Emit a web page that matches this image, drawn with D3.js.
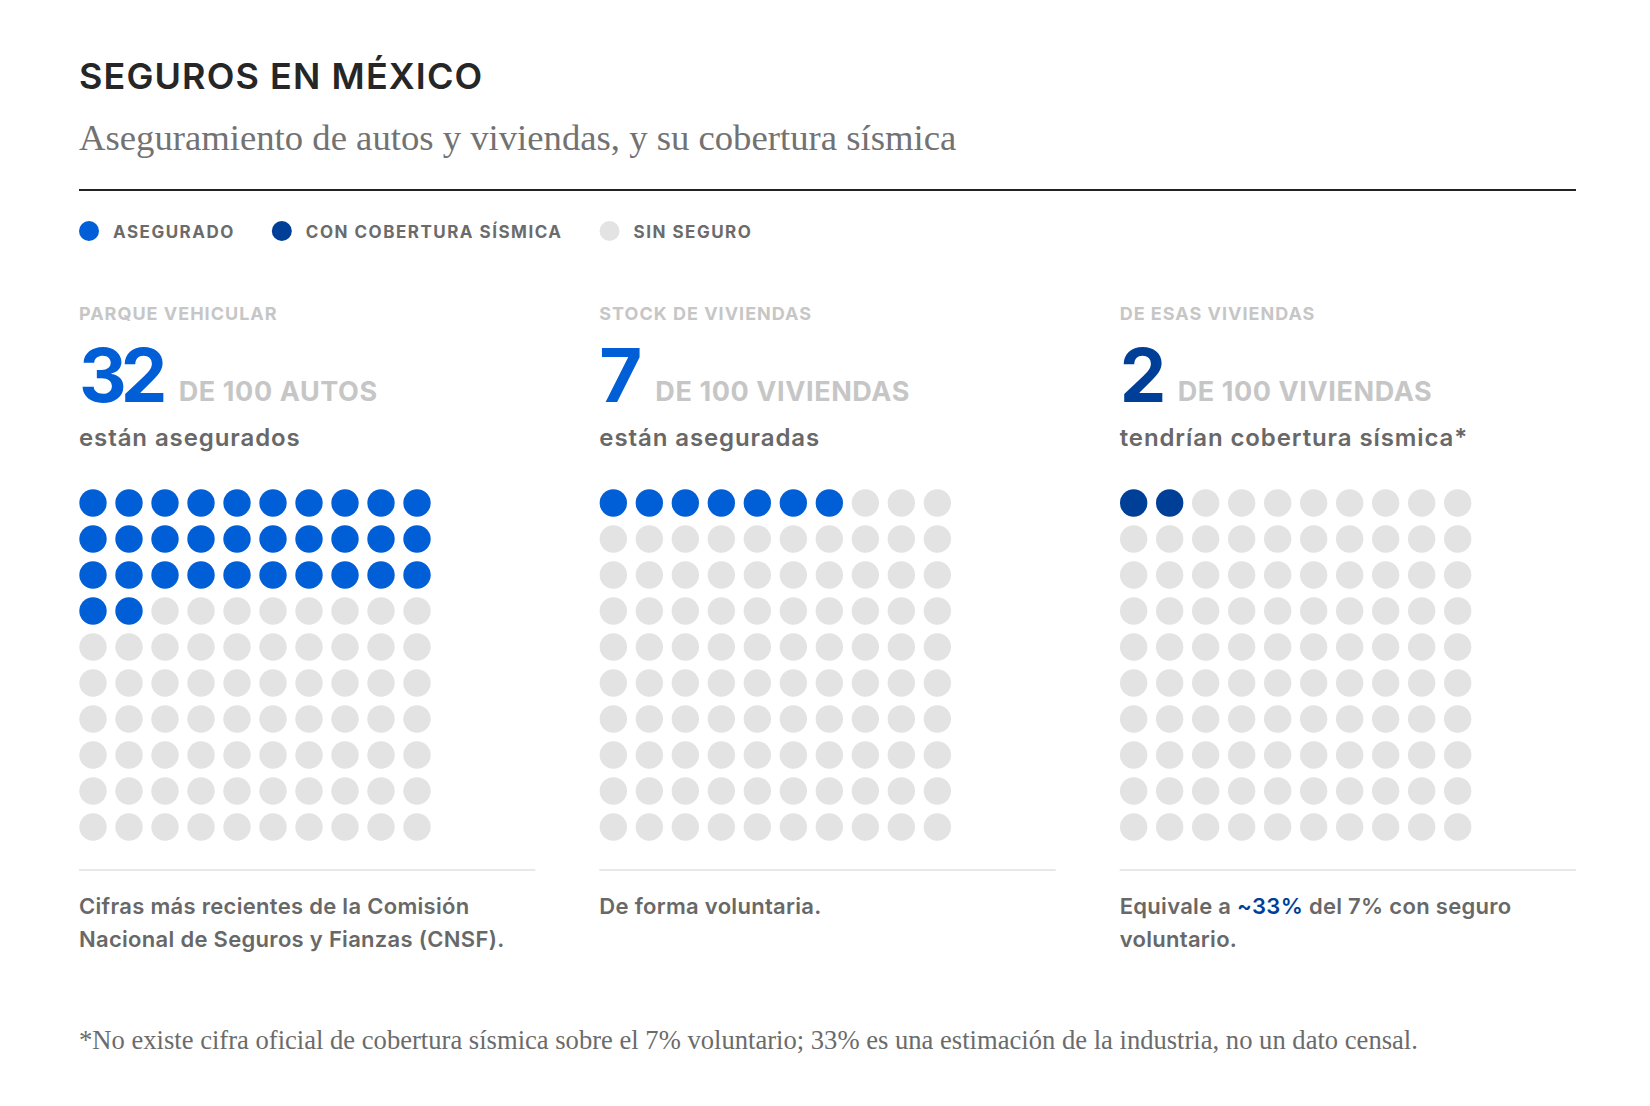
<!DOCTYPE html>
<html>
<head>
<meta charset="utf-8">
<script src="https://cdn.jsdelivr.net/npm/d3@7"></script>
<style>
  body { margin: 0; background: #fff; }
  svg { display: block; }
  .sans { font-family: Inter, "Noto Sans", sans-serif; }
  .serif { font-family: "Liberation Serif", "DejaVu Serif", serif; }
</style>
</head>
<body>
<div id="chart"></div>
<script>
// data
var legendLabels = ['ASEGURADO', 'CON COBERTURA SÍSMICA', 'SIN SEGURO'];
var legendColors = ['#005ed6', '#003f98', '#e3e3e3'];

var panelLabels = ['PARQUE VEHICULAR', 'STOCK DE VIVIENDAS', 'DE ESAS VIVIENDAS'];
var panelValues = [32, 7, 2];
var panelUnits = ['DE 100 AUTOS', 'DE 100 VIVIENDAS', 'DE 100 VIVIENDAS'];
var panelCaptions = ['están asegurados', 'están aseguradas', 'tendrían cobertura sísmica*'];
var panelColors = ['#005ed6', '#005ed6', '#003f98'];
var panelNotes = [
  ['Cifras más recientes de la Comisión', 'Nacional de Seguros y Fianzas (CNSF).'],
  ['De forma voluntaria.'],
  ['Equivale a ~33% del 7% con seguro', 'voluntario.']
];
var highlight = '~33%';

var title = 'SEGUROS EN MÉXICO';
var subtitle = 'Aseguramiento de autos y viviendas, y su cobertura sísmica';
var footnote = '*No existe cifra oficial de cobertura sísmica sobre el 7% voluntario; 33% es una estimación de la industria, no un dato censal.';

var width = 1650, height = 1106;
var margin = { left: 79, right: 74 };
var gray = '#e3e3e3';

var svg = d3.select('#chart').append('svg')
  .attr('width', width)
  .attr('height', height);

// header
svg.append('text').attr('class', 'sans')
  .attr('x', margin.left).attr('y', 89)
  .attr('font-size', 36).attr('font-weight', 600)
  .attr('letter-spacing', 1.1).attr('fill', '#262626')
  .text(title);

svg.append('text').attr('class', 'serif')
  .attr('x', margin.left).attr('y', 150)
  .attr('font-size', 36.7).attr('fill', '#727272')
  .text(subtitle);

svg.append('line')
  .attr('x1', margin.left).attr('x2', width - margin.right)
  .attr('y1', 190).attr('y2', 190)
  .attr('stroke', '#222').attr('stroke-width', 2);

// legend
var lx = margin.left;
var legend = svg.append('g').attr('transform', 'translate(0,231)');
legendLabels.forEach(function(label, i) {
  legend.append('circle').attr('cx', lx + 10).attr('cy', 0).attr('r', 10)
    .attr('fill', legendColors[i]);
  var txt = legend.append('text').attr('class', 'sans')
    .attr('x', lx + 34).attr('y', 6.5)
    .attr('font-size', 17).attr('font-weight', 700)
    .attr('letter-spacing', 1.5).attr('fill', '#6b6b6b')
    .text(label);
  lx += 34 + txt.node().getComputedTextLength() + 37;
});

// panels
var panelX = d3.scaleBand()
  .domain(d3.range(panelLabels.length))
  .range([margin.left, width - margin.right])
  .paddingInner(0.123);

var col = d3.scaleBand().domain(d3.range(10)).range([0, 352]).paddingInner(8 / 36);
var row = d3.scaleBand().domain(d3.range(10)).range([489, 841]).paddingInner(8 / 36);
var r = col.bandwidth() / 2 - 0.3;

panelLabels.forEach(function(label, p) {
  var g = svg.append('g').attr('transform', 'translate(' + panelX(p) + ',0)');

  g.append('text').attr('class', 'sans')
    .attr('y', 320).attr('font-size', 18).attr('font-weight', 700)
    .attr('letter-spacing', 1).attr('fill', '#c6c6c6')
    .text(label);

  var num = g.append('text').attr('class', 'sans')
    .attr('y', 402).attr('font-size', 74).attr('font-weight', 700)
    .attr('letter-spacing', -6).attr('fill', panelColors[p])
    .text(panelValues[p]);

  g.append('text').attr('class', 'sans')
    .attr('x', num.node().getBBox().width + 15)
    .attr('y', 401).attr('font-size', 27).attr('font-weight', 700)
    .attr('letter-spacing', 0.6).attr('fill', '#c6c6c6')
    .text(panelUnits[p]);

  g.append('text').attr('class', 'sans')
    .attr('y', 446).attr('font-size', 24).attr('font-weight', 600)
    .attr('letter-spacing', 0.9).attr('fill', '#686868')
    .text(panelCaptions[p]);

  var cells = d3.range(100).map(function(i) {
    return { i: i, c: i % 10, r: Math.floor(i / 10), on: i < panelValues[p] };
  });

  g.selectAll('circle.dot')
    .data(cells)
    .enter()
    .append('circle')
    .attr('class', 'dot')
    .attr('cx', d => col(d.c) + col.bandwidth() / 2)
    .attr('cy', d => row(d.r) + row.bandwidth() / 2)
    .attr('r', r)
    .attr('fill', d => d.on ? panelColors[p] : gray);

  g.append('line')
    .attr('x1', 0).attr('x2', panelX.bandwidth())
    .attr('y1', 870).attr('y2', 870)
    .attr('stroke', '#e8e8e8').attr('stroke-width', 2);

  var notes = g.append('text').attr('class', 'sans')
    .attr('font-size', 22).attr('font-weight', 600)
    .attr('letter-spacing', 0.3).attr('fill', '#686868');
  panelNotes[p].forEach(function(line, k) {
    var ts = notes.append('tspan').attr('x', 0).attr('y', 914 + k * 33);
    line.split(highlight).forEach(function(part, j) {
      if (j > 0) ts.append('tspan').attr('fill', '#003f98').text(highlight);
      ts.append('tspan').text(part);
    });
  });
});

svg.append('text').attr('class', 'serif')
  .attr('x', margin.left).attr('y', 1049)
  .attr('font-size', 26.6).attr('fill', '#6b6b6b')
  .text(footnote);
</script>
</body>
</html>
